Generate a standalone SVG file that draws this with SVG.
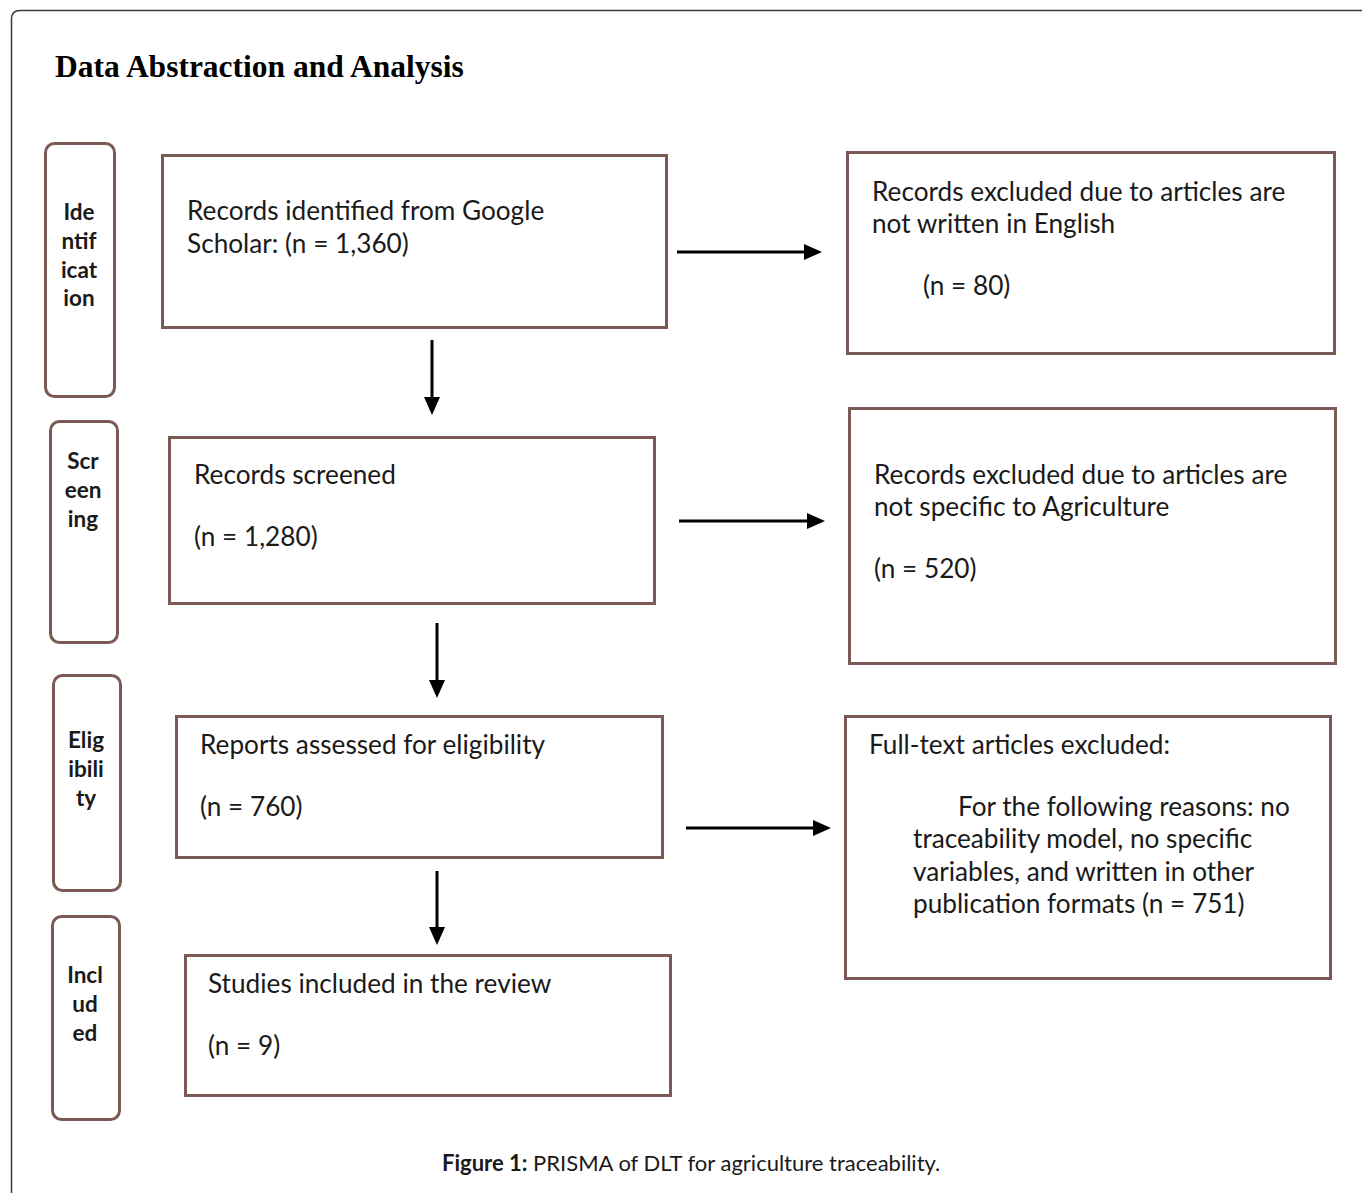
<svg xmlns="http://www.w3.org/2000/svg" width="1362" height="1193" viewBox="0 0 1362 1193">
<defs>
<style>
.frame{fill:none;stroke:#3a3a3a;stroke-width:1.5}
.box{fill:#fff;stroke:#7b5a56;stroke-width:3}
.side{fill:#fff;stroke:#7b5a56;stroke-width:3}
.t{font-family:Lato,"Liberation Sans",sans-serif;font-size:26.2px;fill:#1a1a1a}
.s{font-family:Lato,"Liberation Sans",sans-serif;font-size:22.5px;font-weight:bold;fill:#1a1a1a;text-anchor:middle}
.title{font-family:"Liberation Serif",serif;font-size:31.5px;font-weight:bold;fill:#000}
.cap{font-family:Lato,"Liberation Sans",sans-serif;font-size:22px;fill:#1a1a1a}
.conn{stroke:#000;stroke-width:3;fill:none}
</style>
<marker id="ah" markerWidth="18" markerHeight="16" refX="8" refY="8" orient="auto" markerUnits="userSpaceOnUse" viewBox="0 0 18 16">
<path d="M0,0 L18,8 L0,16 z" fill="#000"/>
</marker>
</defs>
<rect width="1362" height="1193" fill="#fff"/>
<path class="frame" d="M11.5,1193 V19 Q11.5,10.5 20,10.5 H1362"/>
<text class="title" x="55" y="77">Data Abstraction and Analysis</text>

<g id="side-identification">
<rect class="side" x="45.5" y="143.5" width="69" height="253" rx="9"/>
<text class="s" x="79" y="220">Ide</text><text class="s" x="79" y="249">ntif</text><text class="s" x="79" y="278">icat</text><text class="s" x="79" y="306">ion</text>
</g>
<g id="side-screening">
<rect class="side" x="50.5" y="421.5" width="67" height="221" rx="9"/>
<text class="s" x="83" y="469">Scr</text><text class="s" x="83" y="498">een</text><text class="s" x="83" y="527">ing</text>
</g>
<g id="side-eligibility">
<rect class="side" x="53.5" y="675.5" width="67" height="215" rx="9"/>
<text class="s" x="86" y="748">Elig</text><text class="s" x="86" y="777">ibili</text><text class="s" x="86" y="806">ty</text>
</g>
<g id="side-included">
<rect class="side" x="52.5" y="916.5" width="67" height="203" rx="9"/>
<text class="s" x="85" y="983">Incl</text><text class="s" x="85" y="1012">ud</text><text class="s" x="85" y="1041">ed</text>
</g>

<g id="box-identified">
<rect class="box" x="162.5" y="155.5" width="504" height="172"/>
<text class="t" x="187" y="220">Records identified from Google</text>
<text class="t" x="187" y="253">Scholar: (n = 1,360)</text>
</g>
<g id="box-excluded-english">
<rect class="box" x="847.5" y="152.5" width="487" height="201"/>
<text class="t" x="872" y="201">Records excluded due to articles are</text>
<text class="t" x="872" y="233">not written in English</text>
<text class="t" x="923" y="295">(n = 80)</text>
</g>
<g id="box-screened">
<rect class="box" x="169.5" y="437.5" width="485" height="166"/>
<text class="t" x="194" y="484">Records screened</text>
<text class="t" x="194" y="546">(n = 1,280)</text>
</g>
<g id="box-excluded-agri">
<rect class="box" x="849.5" y="408.5" width="486" height="255"/>
<text class="t" x="874" y="484">Records excluded due to articles are</text>
<text class="t" x="874" y="516">not specific to Agriculture</text>
<text class="t" x="874" y="578">(n = 520)</text>
</g>
<g id="box-eligibility">
<rect class="box" x="176.5" y="716.5" width="486" height="141"/>
<text class="t" x="200" y="754">Reports assessed for eligibility</text>
<text class="t" x="200" y="816">(n = 760)</text>
</g>
<g id="box-fulltext-excluded">
<rect class="box" x="845.5" y="716.5" width="485" height="262"/>
<text class="t" x="869" y="754">Full-text articles excluded:</text>
<text class="t" x="958" y="816">For the following reasons: no</text>
<text class="t" x="913" y="848">traceability model, no specific</text>
<text class="t" x="913" y="881">variables, and written in other</text>
<text class="t" x="913" y="913">publication formats (n = 751)</text>
</g>
<g id="box-included">
<rect class="box" x="185.5" y="955.5" width="485" height="140"/>
<text class="t" x="208" y="993">Studies included in the review</text>
<text class="t" x="208" y="1055">(n = 9)</text>
</g>

<g id="connectors">
<line class="conn" x1="677" y1="252" x2="812" y2="252" marker-end="url(#ah)"/>
<line class="conn" x1="679" y1="521" x2="815" y2="521" marker-end="url(#ah)"/>
<line class="conn" x1="686" y1="828" x2="821" y2="828" marker-end="url(#ah)"/>
<line class="conn" x1="432" y1="340" x2="432" y2="405" marker-end="url(#ah)"/>
<line class="conn" x1="437" y1="623" x2="437" y2="688" marker-end="url(#ah)"/>
<line class="conn" x1="437" y1="871" x2="437" y2="935" marker-end="url(#ah)"/>
</g>

<text class="cap" x="442" y="1171"><tspan font-weight="bold">Figure 1:</tspan> PRISMA of DLT for agriculture traceability.</text>
</svg>
